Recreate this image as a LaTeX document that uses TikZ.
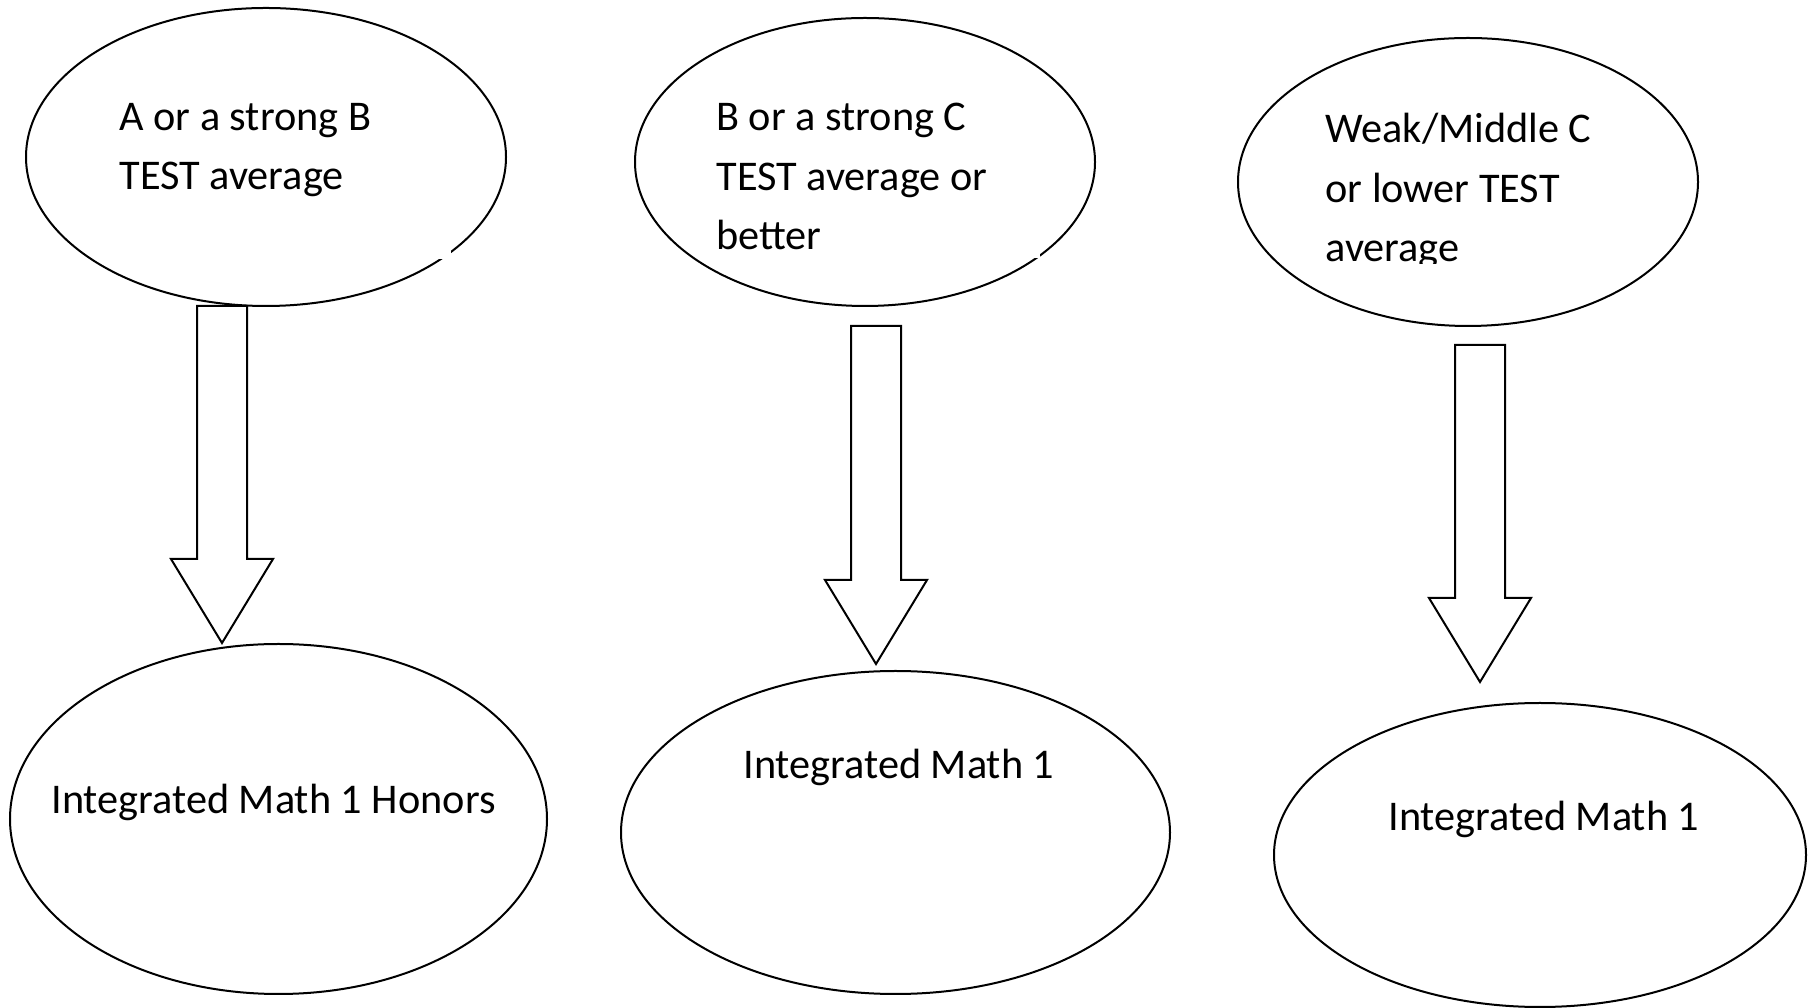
\documentclass[tikz,border=0pt]{standalone}
\usepackage{fontspec}
\setmainfont{Carlito}
\usetikzlibrary{shapes, calc}

\begin{document}
\begin{tikzpicture}[>=latex,line join=miter,
  oval/.style={ellipse,draw=black,line width=1bp,inner sep=0pt},
  txt/.style={align=left,inner sep=0pt,anchor=base west,font=\fontsize{21.15bp}{29.75bp}\selectfont},
  blockarrow/.style={draw=black,line width=1bp},
  gapbox/.style={fill=white},
]
%%
\useasboundingbox (0bp,0bp) rectangle (906.5bp,504bp);
\node (node_1) at (133bp,425.5bp) [oval,minimum width=240bp,minimum height=149bp] {};
  \node (node_2) at (432.5bp,423bp) [oval,minimum width=230bp,minimum height=144bp] {};
  \node (node_3) at (734bp,413bp) [oval,minimum width=230bp,minimum height=144bp] {};
  \node (node_4) at (139.25bp,94.5bp) [oval,minimum width=268.5bp,minimum height=175bp] {};
  \node (node_5) at (447.75bp,87.75bp) [oval,minimum width=274.5bp,minimum height=161.5bp] {};
  \node (node_6) at (770bp,76.5bp) [oval,minimum width=266bp,minimum height=152bp] {};
%
\fill [gapbox] (50bp,469bp) rectangle (225.5bp,374.5bp);
\fill [gapbox] (352.5bp,469bp) rectangle (520bp,375bp);
\node (text_1) at (59.5bp,409.2bp) [txt] {A or a strong B\\TEST average};
  \node (text_2) at (358bp,379.2bp) [txt] {B or a strong C\\TEST average or\\better};
  \begin{scope}
  \clip (650bp,500bp) rectangle (820bp,372bp);
  \node (text_3) at (662.5bp,373.2bp) [txt] {Weak/Middle C\\or lower TEST\\average};
  \end{scope}
  \node (text_4) at (25.5bp,97bp) [txt] {Integrated Math 1 Honors};
  \node (text_5) at (371.5bp,114.5bp) [txt] {Integrated Math 1};
  \node (text_6) at (694bp,88.5bp) [txt] {Integrated Math 1};
%
\coordinate (arrow_1_top) at (111bp,351bp);
  \coordinate (arrow_1_tip) at (111bp,182.5bp);
  \coordinate (arrow_2_top) at (438bp,341bp);
  \coordinate (arrow_2_tip) at (438bp,172bp);
  \coordinate (arrow_3_top) at (740bp,331.5bp);
  \coordinate (arrow_3_tip) at (740bp,163bp);
  \draw [blockarrow] ($(arrow_1_top)+(-12.5bp,0)$) -- ($(arrow_1_top)+(12.5bp,0)$) -- ($(arrow_1_tip)+(12.5bp,42bp)$) -- ($(arrow_1_tip)+(25.5bp,42bp)$) -- (arrow_1_tip) -- ($(arrow_1_tip)+(-25.5bp,42bp)$) -- ($(arrow_1_tip)+(-12.5bp,42bp)$) -- cycle;
  \draw [blockarrow] ($(arrow_2_top)+(-12.5bp,0)$) -- ($(arrow_2_top)+(12.5bp,0)$) -- ($(arrow_2_tip)+(12.5bp,42bp)$) -- ($(arrow_2_tip)+(25.5bp,42bp)$) -- (arrow_2_tip) -- ($(arrow_2_tip)+(-25.5bp,42bp)$) -- ($(arrow_2_tip)+(-12.5bp,42bp)$) -- cycle;
  \draw [blockarrow] ($(arrow_3_top)+(-12.5bp,0)$) -- ($(arrow_3_top)+(12.5bp,0)$) -- ($(arrow_3_tip)+(12.5bp,42bp)$) -- ($(arrow_3_tip)+(25.5bp,42bp)$) -- (arrow_3_tip) -- ($(arrow_3_tip)+(-25.5bp,42bp)$) -- ($(arrow_3_tip)+(-12.5bp,42bp)$) -- cycle;
%
\end{tikzpicture}
\end{document}
